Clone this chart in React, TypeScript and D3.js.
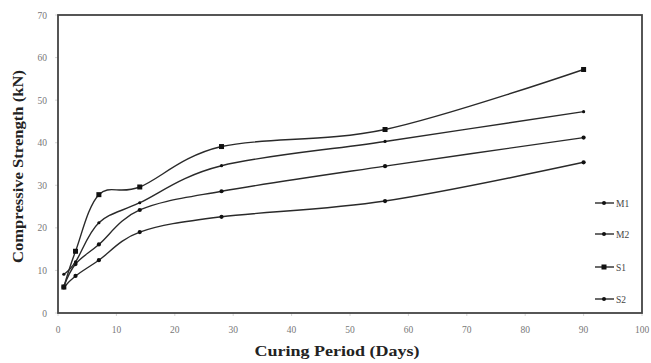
import React from "react";
import * as d3 from "d3";

const days = [1, 3, 7, 14, 28, 56, 90];
const M1 = [6.2, 11.5, 16.1, 24.2, 28.6, 34.5, 41.2];
const M2 = [6.0, 8.7, 12.4, 19.0, 22.6, 26.3, 35.4];
const S1 = [6.1, 14.5, 27.8, 29.6, 39.1, 43.1, 57.2];
const S2 = [9.1, 12.0, 21.2, 25.9, 34.6, 40.3, 47.3];
const seriesNames = ["M1", "M2", "S1", "S2"];
const xTicks = [0, 10, 20, 30, 40, 50, 60, 70, 80, 90, 100];
const yTicks = [0, 10, 20, 30, 40, 50, 60, 70];

const W = 651, H = 363;
const L = 58, R = 642, T = 15, B = 313;

export default function App() {
  const x = d3.scaleLinear().domain([0, 100]).range([L, R]);
  const y = d3.scaleLinear().domain([0, 70]).range([B, T]);
  const series = [
    { name: "M1", vals: M1, marker: "dot" },
    { name: "M2", vals: M2, marker: "dot" },
    { name: "S1", vals: S1, marker: "square" },
    { name: "S2", vals: S2, marker: "plus" },
  ];
  const line = d3
    .line<[number, number]>()
    .x((d) => x(d[0]))
    .y((d) => y(d[1]))
    .curve(d3.curveCardinal.tension(0));
  const col = "#2a2a2a";
  const marker = (kind: string, cx: number, cy: number, key: string) => {
    if (kind === "square")
      return <rect key={key} x={cx - 2.5} y={cy - 2.5} width={5} height={5} fill="#111" />;
    if (kind === "plus")
      return <circle key={key} cx={cx} cy={cy} r={1.6} fill="#111" />;
    return <circle key={key} cx={cx} cy={cy} r={2.1} fill="#111" />;
  };
  const legendY = [203, 234, 267, 299];
  return (
    <svg width={W} height={H} style={{ position: "absolute", left: 0, top: 0, background: "#fff" }}>
      <rect x={0} y={0} width={W} height={H} fill="#fff" />
      {xTicks.map((t) => (
        <g key={"x" + t}>
          <line x1={x(t)} x2={x(t)} y1={B} y2={B + 3} stroke="#ccc" strokeWidth={0.8} />
          <text x={x(t)} y={333} fontSize={9.5} fill="#777" textAnchor="middle" fontFamily="Liberation Serif, serif">{t}</text>
        </g>
      ))}
      {yTicks.map((t) => (
        <g key={"y" + t}>
          <line x1={L - 3} x2={L} y1={y(t)} y2={y(t)} stroke="#ccc" strokeWidth={0.8} />
          <text x={47} y={y(t) + 3.5} fontSize={9.5} fill="#777" textAnchor="end" fontFamily="Liberation Serif, serif">{t}</text>
        </g>
      ))}
      <rect x={L} y={T} width={R - L} height={B - T} fill="none" stroke="#444" strokeWidth={1.8} />
      {series.map((s) => {
        const pts = days.map((d, i) => [d, s.vals[i]] as [number, number]);
        return (
          <g key={s.name}>
            <path d={line(pts) || ""} fill="none" stroke={col} strokeWidth={1.4} />
            {pts.map((p, i) => marker(s.marker, x(p[0]), y(p[1]), s.name + i))}
          </g>
        );
      })}
      {series.map((s, i) => (
        <g key={"lg" + s.name}>
          <line x1={595} x2={614} y1={legendY[i]} y2={legendY[i]} stroke={col} strokeWidth={1.4} />
          {s.marker === "square" ? (
            <rect x={601.5} y={legendY[i] - 2.5} width={5} height={5} fill="#111" />
          ) : (
            <circle cx={604} cy={legendY[i]} r={2} fill="#111" />
          )}
          <text x={616} y={legendY[i] + 3.5} fontSize={9.5} fill="#444" fontFamily="Liberation Serif, serif">{seriesNames[i]}</text>
        </g>
      ))}
      <text x={337} y={356} fontSize={14} fontWeight="bold" fill="#222" textAnchor="middle" fontFamily="Liberation Serif, serif" textLength={165} lengthAdjust="spacingAndGlyphs">Curing Period (Days)</text>
      <text transform={`translate(23,${(70 + 263) / 2}) rotate(-90)`} fontSize={14} fontWeight="bold" fill="#222" textAnchor="middle" fontFamily="Liberation Serif, serif" textLength={193} lengthAdjust="spacingAndGlyphs">Compressive Strength (kN)</text>
    </svg>
  );
}
